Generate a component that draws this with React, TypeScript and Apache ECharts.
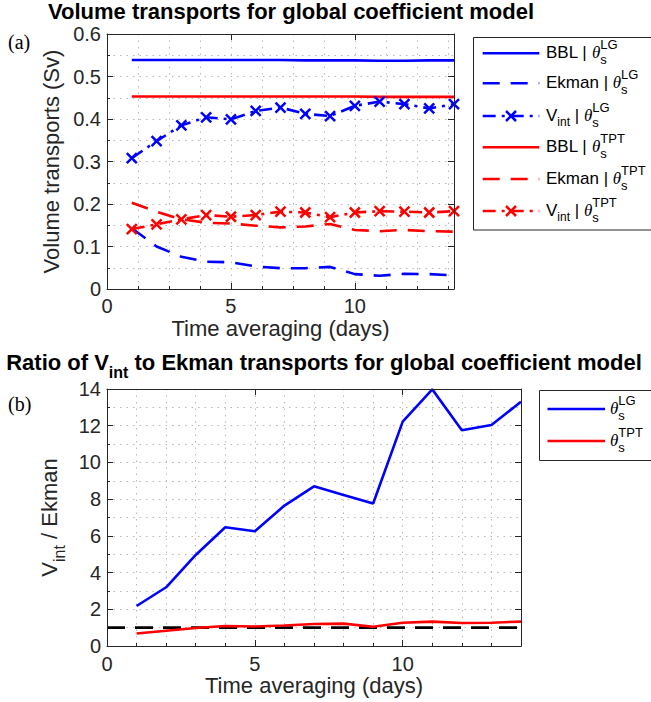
import React, { useEffect, useRef } from "react";
import * as echarts from "echarts";

// ---------- data ----------
const DAYS = [1, 2, 3, 4, 5, 6, 7, 8, 9, 10, 11, 12, 13, 14];
const BBL_LG = [0.539, 0.539, 0.539, 0.539, 0.539, 0.539, 0.539, 0.538, 0.538, 0.538, 0.537, 0.537, 0.538, 0.538];
const EKMAN_LG = [0.143, 0.1, 0.076, 0.064, 0.063, 0.053, 0.049, 0.049, 0.052, 0.035, 0.031, 0.036, 0.035, 0.032];
const VINT_LG = [0.308, 0.348, 0.385, 0.404, 0.399, 0.419, 0.427, 0.412, 0.407, 0.431, 0.441, 0.435, 0.425, 0.435];
const BBL_TPT = [0.453, 0.453, 0.453, 0.453, 0.453, 0.453, 0.453, 0.453, 0.453, 0.453, 0.452, 0.452, 0.452, 0.452];
const EKMAN_TPT = [0.203, 0.182, 0.164, 0.156, 0.154, 0.149, 0.145, 0.147, 0.153, 0.139, 0.136, 0.139, 0.136, 0.135];
const VINT_TPT = [0.141, 0.152, 0.164, 0.174, 0.17, 0.174, 0.182, 0.18, 0.169, 0.18, 0.183, 0.182, 0.18, 0.183];

const RATIO_LG = [2.18, 3.2, 4.96, 6.47, 6.25, 7.65, 8.7, 8.23, 7.76, 12.22, 13.98, 11.75, 12.04, 13.3];
const RATIO_TPT = [0.68, 0.83, 0.98, 1.09, 1.06, 1.12, 1.2, 1.22, 1.05, 1.27, 1.33, 1.25, 1.27, 1.33];
const REF_X = [0, 14];
const REF_Y = [1, 1];

// axis ranges
const X_RANGE = [0, 14];
const Y1_RANGE = [0, 0.6];
const Y2_RANGE = [0, 14];

// ---------- styles ----------
const SANS = '"Liberation Sans", Arial, Helvetica, sans-serif';
const SERIF = '"Liberation Serif", "Times New Roman", serif';
const FRAME = "#262626";
const GRIDC = "#b8b8b8";
const BLUE = "#0000ff";
const RED = "#ff0000";
const LW = 2.6;
const DASH = [17, 11];
const DASHDOT = [13, 6, 3, 6];
const CROSS = "path://M0,0L10,10M10,0L0,10";

let mctx: CanvasRenderingContext2D | null = null;
function tw(t: string, size: number, family = SANS, style = "normal") {
  if (!mctx) mctx = document.createElement("canvas").getContext("2d");
  if (!mctx) return t.length * size * 0.55;
  mctx.font = `${style} normal ${size}px ${family}`;
  return mctx.measureText(t).width;
}

type Seg = { t?: string; size?: number; dy?: number; theta?: boolean; sup?: string; sub?: string };

function textRow(x0: number, y: number, segs: Seg[]) {
  const els: any[] = [];
  let x = x0;
  for (const s of segs) {
    if (s.sup !== undefined) {
      const w1 = tw(s.sup, 13);
      const w2 = tw(s.sub || "", 13);
      els.push({ type: "text", x, y: y - 8, silent: true, style: { text: s.sup, fontSize: 13, fontFamily: SANS, fill: "#000", align: "left", verticalAlign: "middle" } });
      els.push({ type: "text", x, y: y + 7, silent: true, style: { text: s.sub, fontSize: 13, fontFamily: SANS, fill: "#000", align: "left", verticalAlign: "middle" } });
      x += Math.max(w1, w2);
    } else {
      const size = s.size || 17;
      const fam = s.theta ? SERIF : SANS;
      const st = s.theta ? "italic" : "normal";
      els.push({ type: "text", x, y: y + (s.dy || 0), silent: true, style: { text: s.t, fontSize: size, fontFamily: fam, fontStyle: st, fill: "#000", align: "left", verticalAlign: "middle" } });
      x += tw(s.t || "", size, fam, st);
    }
  }
  return els;
}

function sample(x1: number, x2: number, y: number, color: string, dash: number[] | null, marker: boolean) {
  const els: any[] = [
    { type: "line", silent: true, shape: { x1, y1: y, x2, y2: y }, style: { stroke: color, lineWidth: LW, lineDash: dash || undefined } },
  ];
  if (marker) {
    const cx = (x1 + x2) / 2;
    const r = 5;
    els.push({ type: "line", silent: true, shape: { x1: cx - r, y1: y - r, x2: cx + r, y2: y + r }, style: { stroke: color, lineWidth: 2.5 } });
    els.push({ type: "line", silent: true, shape: { x1: cx - r, y1: y + r, x2: cx + r, y2: y - r }, style: { stroke: color, lineWidth: 2.5 } });
  }
  return els;
}

function axesFor(gridIndex: number, dim: "x" | "y", range: number[], major: number, minor: number, opts: any) {
  const horiz = dim === "x";
  const main = {
    gridIndex,
    type: "value",
    min: range[0],
    max: range[1],
    interval: major,
    position: horiz ? "bottom" : "left",
    axisLine: { show: true, onZero: false, lineStyle: { color: FRAME, width: 1 } },
    axisTick: { show: true, inside: true, length: 6, lineStyle: { color: FRAME, width: 1 } },
    axisLabel: { show: true, fontSize: 20, fontFamily: SANS, color: FRAME, margin: opts.margin, showMaxLabel: horiz ? false : true },
    splitLine: { show: false },
    name: opts.name,
    nameLocation: "middle",
    nameGap: opts.nameGap,
    nameTextStyle: opts.nameTextStyle || { fontSize: 22, fontFamily: SANS, color: FRAME },
    z: 5,
  };
  const minorAx = {
    gridIndex,
    type: "value",
    min: range[0],
    max: range[1],
    interval: minor,
    position: horiz ? "bottom" : "left",
    axisLine: { show: false, onZero: false },
    axisTick: { show: true, inside: true, length: 3, lineStyle: { color: FRAME, width: 1 } },
    axisLabel: { show: false },
    splitLine: { show: true, lineStyle: { color: GRIDC, width: 1, type: [1.5, 5] } },
    z: 1,
  };
  const mirror = {
    gridIndex,
    type: "value",
    min: range[0],
    max: range[1],
    interval: major,
    position: horiz ? "top" : "right",
    axisLine: { show: true, onZero: false, lineStyle: { color: FRAME, width: 1 } },
    axisTick: { show: true, inside: true, length: 6, lineStyle: { color: FRAME, width: 1 } },
    axisLabel: { show: false },
    splitLine: { show: false },
    z: 5,
  };
  return [main, minorAx, mirror];
}

const pairs = (ys: number[]) => DAYS.map((d, i) => [d, ys[i]]);

function lineSeries(name: string, ys: number[], color: string, dash: number[] | null, marker: boolean, xi: number, yi: number) {
  return {
    name,
    type: "line",
    xAxisIndex: xi,
    yAxisIndex: yi,
    data: pairs(ys),
    silent: true,
    symbol: marker ? CROSS : "none",
    symbolSize: 10,
    showSymbol: marker,
    showAllSymbol: true,
    itemStyle: { color, borderColor: color, borderWidth: 2.5 },
    lineStyle: { color, width: LW, type: dash || "solid" },
    z: 3,
  };
}

export default function App() {
  const ref = useRef<HTMLDivElement>(null);
  useEffect(() => {
    if (!ref.current) return;
    const chart = echarts.init(ref.current, undefined, { renderer: "svg" });

    const xAxes = [
      ...axesFor(0, "x", X_RANGE, 5, 1.25, { margin: 7, name: "Time averaging (days)", nameGap: 28 }),
      ...axesFor(1, "x", X_RANGE, 5, 1, { margin: 8, name: "Time averaging (days)", nameGap: 28 }),
    ];
    const yAxes = [
      ...axesFor(0, "y", Y1_RANGE, 0.1, 0.05, { margin: 6, name: "Volume transports (Sv)", nameGap: 43 }),
      ...axesFor(1, "y", Y2_RANGE, 2, 1, {
        margin: 6,
        name: "{a|V}{b|int}{a| / Ekman}",
        nameGap: 36,
        nameTextStyle: {
          color: FRAME,
          rich: {
            a: { fontSize: 22, fontFamily: SANS, color: FRAME },
            b: { fontSize: 16, fontFamily: SANS, color: FRAME, padding: [20, 0, 0, 0] },
          },
        },
      }),
    ];

    const series = [
      lineSeries("BBL | θs LG", BBL_LG, BLUE, null, false, 0, 0),
      lineSeries("Ekman | θs LG", EKMAN_LG, BLUE, DASH, false, 0, 0),
      lineSeries("Vint | θs LG", VINT_LG, BLUE, DASHDOT, true, 0, 0),
      lineSeries("BBL | θs TPT", BBL_TPT, RED, null, false, 0, 0),
      lineSeries("Ekman | θs TPT", EKMAN_TPT, RED, DASH, false, 0, 0),
      lineSeries("Vint | θs TPT", VINT_TPT, RED, DASHDOT, true, 0, 0),
      {
        name: "ratio = 1",
        type: "line",
        xAxisIndex: 3,
        yAxisIndex: 3,
        data: REF_X.map((x, i) => [x, REF_Y[i]]),
        symbol: "none",
        silent: true,
        lineStyle: { color: "#000", width: 2.6, type: [18, 10] },
        z: 2,
      },
      lineSeries("θs LG", RATIO_LG, BLUE, null, false, 3, 3),
      lineSeries("θs TPT", RATIO_TPT, RED, null, false, 3, 3),
    ];

    const th: Seg = { t: "θ", theta: true };
    const topRows: { y: number; color: string; dash: number[] | null; marker: boolean; segs: Seg[] }[] = [
      { y: 53.3, color: BLUE, dash: null, marker: false, segs: [{ t: "BBL | " }, th, { sup: "LG", sub: "s" }] },
      { y: 83.3, color: BLUE, dash: DASH, marker: false, segs: [{ t: "Ekman | " }, th, { sup: "LG", sub: "s" }] },
      { y: 116, color: BLUE, dash: DASHDOT, marker: true, segs: [{ t: "V" }, { t: "int", size: 12, dy: 7 }, { t: " | " }, th, { sup: "LG", sub: "s" }] },
      { y: 147.3, color: RED, dash: null, marker: false, segs: [{ t: "BBL | " }, th, { sup: "TPT", sub: "s" }] },
      { y: 179, color: RED, dash: DASH, marker: false, segs: [{ t: "Ekman | " }, th, { sup: "TPT", sub: "s" }] },
      { y: 211, color: RED, dash: DASHDOT, marker: true, segs: [{ t: "V" }, { t: "int", size: 12, dy: 7 }, { t: " | " }, th, { sup: "TPT", sub: "s" }] },
    ];
    const botRows = [
      { y: 409, color: BLUE, segs: [th, { sup: "LG", sub: "s" }] },
      { y: 441, color: RED, segs: [th, { sup: "TPT", sub: "s" }] },
    ];

    const graphic: any[] = [
      // titles
      { type: "text", x: 291, y: 11, silent: true, style: { text: "Volume transports for global coefficient model", fontSize: 22, fontWeight: "bold", fontFamily: SANS, fill: "#000", align: "center", verticalAlign: "middle" } },
      {
        type: "text", x: 324, y: 362, silent: true,
        style: {
          text: "{a|Ratio of V}{b|int}{a| to Ekman transports for global coefficient model}",
          align: "center", verticalAlign: "middle",
          rich: {
            a: { fontSize: 22, fontWeight: "bold", fontFamily: SANS, fill: "#000" },
            b: { fontSize: 16, fontWeight: "bold", fontFamily: SANS, fill: "#000", padding: [20, 0, 0, 0] },
          },
        },
      },
      { type: "text", x: 8, y: 41.5, silent: true, style: { text: "(a)", fontSize: 20, fontFamily: SERIF, fill: "#000", align: "left", verticalAlign: "middle" } },
      { type: "text", x: 8, y: 404, silent: true, style: { text: "(b)", fontSize: 20, fontFamily: SERIF, fill: "#000", align: "left", verticalAlign: "middle" } },
      // legend boxes
      { type: "rect", silent: true, shape: { x: 473.5, y: 37.5, width: 190, height: 192.5 }, style: { fill: "#fff", stroke: FRAME, lineWidth: 1 } },
      { type: "rect", silent: true, shape: { x: 539.5, y: 390.5, width: 130, height: 70 }, style: { fill: "#fff", stroke: FRAME, lineWidth: 1 } },
    ];
    for (const r of topRows) {
      graphic.push(...sample(482.7, 539.3, r.y, r.color, r.dash, r.marker));
      graphic.push(...textRow(546, r.y - 1, r.segs));
    }
    for (const r of botRows) {
      graphic.push(...sample(547.5, 605, r.y, r.color, null, false));
      graphic.push(...textRow(610, r.y - 1, r.segs));
    }

    chart.setOption({
      animation: false,
      backgroundColor: "#ffffff",
      textStyle: { fontFamily: SANS },
      grid: [
        { left: 107, top: 34, width: 347, height: 255, containLabel: false },
        { left: 107, top: 389, width: 414, height: 257, containLabel: false },
      ],
      xAxis: xAxes,
      yAxis: yAxes,
      series,
      graphic,
    });
    return () => chart.dispose();
  }, []);
  return <div ref={ref} style={{ position: "fixed", left: 0, top: 0, width: 651, height: 702, background: "#fff" }} />;
}
